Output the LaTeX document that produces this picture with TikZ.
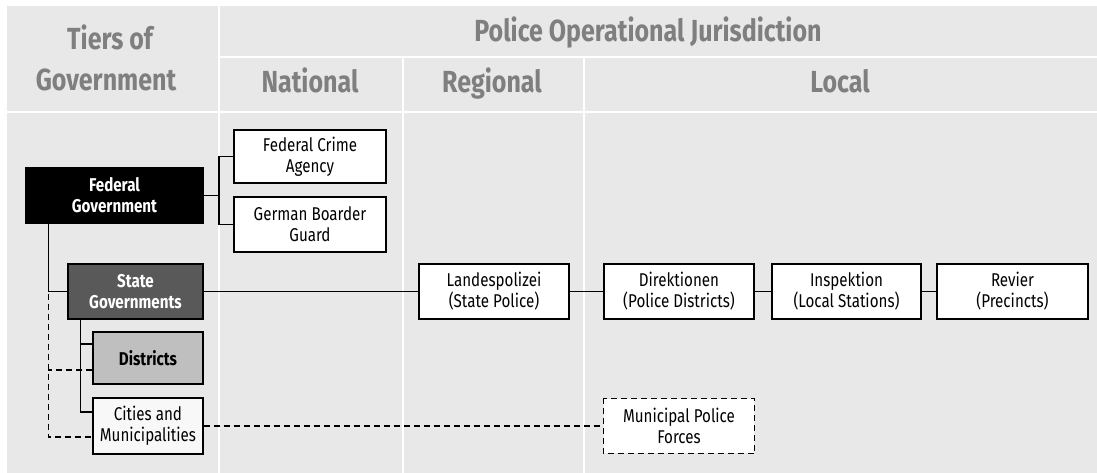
\documentclass[tikz,border=0pt]{standalone}
\usepackage{fontspec}
\setmainfont{Fira Sans}[FakeStretch=0.82]
\usetikzlibrary{calc}
\definecolor{bgc}{HTML}{E8E8E8}
\definecolor{hdc}{HTML}{7F7F7F}
\definecolor{stc}{HTML}{595959}
\definecolor{dic}{HTML}{BFBFBF}
\definecolor{cic}{HTML}{F8F8F8}
\tikzset{
  hdr/.style={text=hdc, font=\fontsize{30.5}{40}\selectfont\bfseries, inner sep=0pt, anchor=base},
  box/.style={draw=black, line width=1.4pt, fill=white, align=center, inner sep=0pt,
    font=\fontsize{18.5}{21}\selectfont, minimum width=150pt, minimum height=55pt},
  govbox/.style={box, font=\fontsize{18.5}{21}\selectfont\bfseries},
  conn/.style={line width=1.4pt},
  dconn/.style={line width=1.2pt, dash pattern=on 6pt off 4pt},
  divider/.style={white, line width=2pt}
}
\begin{document}
\begin{tikzpicture}[x=1pt,y=-1pt]
\useasboundingbox (0,0) rectangle (1097,473);
\fill[bgc] (7,6) rectangle (1097,473);
\draw[divider] (218.5,6) -- (218.5,473);
\draw[divider] (218.5,57.5) -- (1097,57.5);
\draw[divider] (7,112) -- (1097,112);
\draw[divider] (403,57.5) -- (403,473);
\draw[divider] (583.5,57.5) -- (583.5,473);
% headers
\node[hdr] (h1) at (110,50) {Tiers of};
\node[hdr] (h2) at (106,91) {Government};
\node[hdr] (h3) at (648,42) {Police Operational Jurisdiction};
\node[hdr] (h4) at (310,93) {National};
\node[hdr] (h5) at (492,93) {Regional};
\node[hdr] (h6) at (840,93) {Local};
% government tiers
\node[govbox, fill=black, text=white, minimum width=177pt] (fed) at (114.5,195.5) {Federal\\Government};
\node[govbox, fill=stc, text=white, minimum width=135pt] (state) at (135.5,291.5) {State\\Governments};
\node[govbox, fill=dic, minimum width=110pt, minimum height=52pt] (dist) at (148,358) {Districts};
\node[box, fill=cic, minimum width=110pt, minimum height=56pt] (city) at (148,426) {Cities and\\Municipalities};
% police
\node[box, minimum width=152pt, minimum height=53pt] (fca) at (310,156.5) {Federal Crime\\Agency};
\node[box, minimum width=152pt] (gbg) at (310,224.5) {German Boarder\\Guard};
\node[box] (lp) at (494,291.5) {Landespolizei\\(State Police)};
\node[box] (dir) at (679,291.5) {Direktionen\\(Police Districts)};
\node[box, minimum width=149pt] (insp) at (846.5,291.5) {Inspektion\\(Local Stations)};
\node[box, minimum width=151pt] (rev) at (1012.5,291.5) {Revier\\(Precincts)};
\node[box, draw=none, minimum width=150pt, minimum height=54pt] (mun) at (679,426) {Municipal Police\\Forces};
\draw[dconn] (mun.north west) rectangle (mun.south east);
% connectors
\coordinate (j1) at (219,195.5);
\draw[conn] (fed.east) -- (j1);
\draw[conn] (fca.west) -| (j1);
\draw[conn] (gbg.west) -| (j1);
\coordinate (fl) at ($(fed.south west)+(23,0)$);
\draw[conn] (fl) |- (state.west);
\draw[dconn] (fl) |- ([yshift=-11pt]city.west);
\draw[dconn] ([yshift=-12pt]dist.west) -- ([yshift=-12pt]dist.west -| fl);
\coordinate (sl) at ($(state.south west)+(13,0)$);
\draw[conn] (sl) |- ([yshift=14pt]dist.west);
\draw[conn] (sl) |- ([yshift=14pt]city.west);
\draw[conn] (state.east) -- (lp.west);
\draw[conn] (lp.east) -- (dir.west);
\draw[conn] (dir.east) -- (insp.west);
\draw[conn] (insp.east) -- (rev.west);
\draw[dconn] (city.east) -- (mun.west);
\end{tikzpicture}
\end{document}
